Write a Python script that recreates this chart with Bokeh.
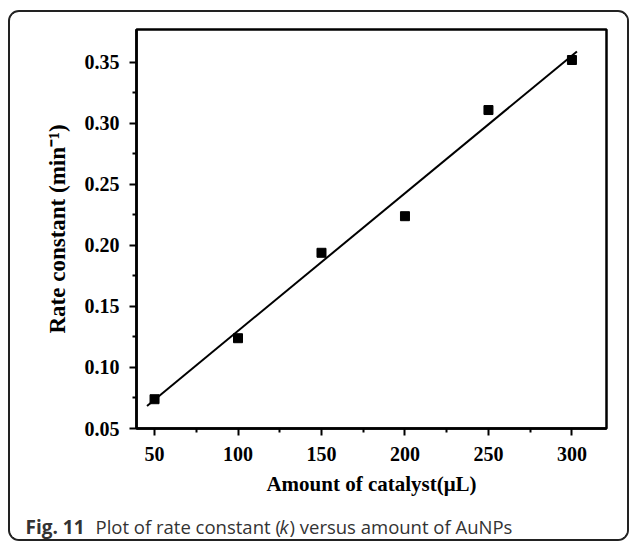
from bokeh.plotting import figure
from bokeh.models import Range1d, FixedTicker, Label
from bokeh.layouts import column, row
from bokeh.embed import file_html
from bokeh.resources import INLINE

# ---- data ----
catalyst_ul = [50, 100, 150, 200, 250, 300]
rate_const = [0.074, 0.124, 0.194, 0.224, 0.311, 0.352]
fit_x = [45.5, 303.0]
fit_y = [0.0685, 0.359]
x_ticks = [50, 100, 150, 200, 250, 300]
x_minor = [75, 125, 175, 225, 275]
y_ticks = [0.05, 0.10, 0.15, 0.20, 0.25, 0.30, 0.35]
y_tick_labels = ["0.05", "0.10", "0.15", "0.20", "0.25", "0.30", "0.35"]
y_minor = [0.075, 0.125, 0.175, 0.225, 0.275, 0.325]
x_label = "Amount of catalyst(\u03bcL)"
y_label = "Rate constant (min\u207b\u00b9)"
cap_bold = "Fig. 11"
cap_a = "Plot of rate constant ("
cap_k = "k"
cap_b = ") versus amount of AuNPs"

SERIF = "Liberation Serif"
SANS = "Open Sans"

# inner origin of the bordered box is at page (10, 12)
p = figure(width=617, height=488, output_backend="svg", toolbar_location=None,
           x_range=Range1d(39.2, 320.7), y_range=Range1d(0.05, 0.377),
           min_border_left=126, min_border_right=21, min_border_top=17,
           min_border_bottom=72)
p.grid.visible = False
p.outline_line_color = "black"
p.outline_line_width = 2.5
p.background_fill_color = "white"
p.border_fill_color = "white"

p.line(fit_x, fit_y, line_color="black", line_width=2)
p.scatter(catalyst_ul, rate_const, marker="square", size=9, color="black")

p.xaxis.ticker = FixedTicker(ticks=x_ticks, minor_ticks=x_minor)
p.yaxis.ticker = FixedTicker(ticks=y_ticks, minor_ticks=y_minor)
p.yaxis.major_label_overrides = {t: l for t, l in zip(y_ticks, y_tick_labels)}

for ax in (p.xaxis, p.yaxis):
    ax.axis_line_width = 2.5
    ax.axis_line_color = "black"
    ax.major_tick_line_width = 2
    ax.minor_tick_line_width = 2
    ax.major_tick_in = 0
    ax.major_tick_out = 7
    ax.minor_tick_in = 0
    ax.minor_tick_out = 4
    ax.major_label_text_font = SERIF
    ax.major_label_text_font_style = "bold"
    ax.major_label_text_font_size = "20px"
    ax.major_label_text_color = "black"
    ax.axis_label_text_font = SERIF
    ax.axis_label_text_font_style = "bold"
    ax.axis_label_text_color = "black"

p.xaxis.axis_label = x_label
p.yaxis.axis_label = y_label
p.xaxis.axis_label_text_font_size = "21px"
p.yaxis.axis_label_text_font_size = "23px"
p.xaxis.major_label_standoff = 11
p.yaxis.major_label_standoff = 10
p.xaxis.axis_label_standoff = 8
p.yaxis.axis_label_standoff = 12

# caption strip below the chart (no axes, frame = whole canvas)
c = figure(width=617, height=39, output_backend="svg", toolbar_location=None,
           x_range=Range1d(0, 617), y_range=Range1d(0, 39),
           x_axis_type=None, y_axis_type=None,
           min_border_left=0, min_border_right=0, min_border_top=0,
           min_border_bottom=0)
c.grid.visible = False
c.outline_line_color = None
c.background_fill_color = "white"
c.border_fill_color = "white"

common = dict(y=13, text_baseline="alphabetic", text_align="left",
              text_font=SANS, text_font_size="18.5px", text_color="#333333")
c.add_layout(Label(x=15, text=cap_bold, text_font_style="bold",
                   **{**common, "text_font_size": "19px"}))
c.add_layout(Label(x=85, text=cap_a, **common))
c.add_layout(Label(x=269, text=cap_k, text_font_style="italic", **common))
c.add_layout(Label(x=279, text=cap_b, **common))

layout = column(p, row(c, spacing=0), spacing=0, margin=(10, 0, 0, 8),
                styles={"border": "2px solid #222222", "border-radius": "11px",
                        "box-sizing": "content-box", "overflow": "hidden"})

open("out.html", "w").write(file_html(layout, INLINE))
